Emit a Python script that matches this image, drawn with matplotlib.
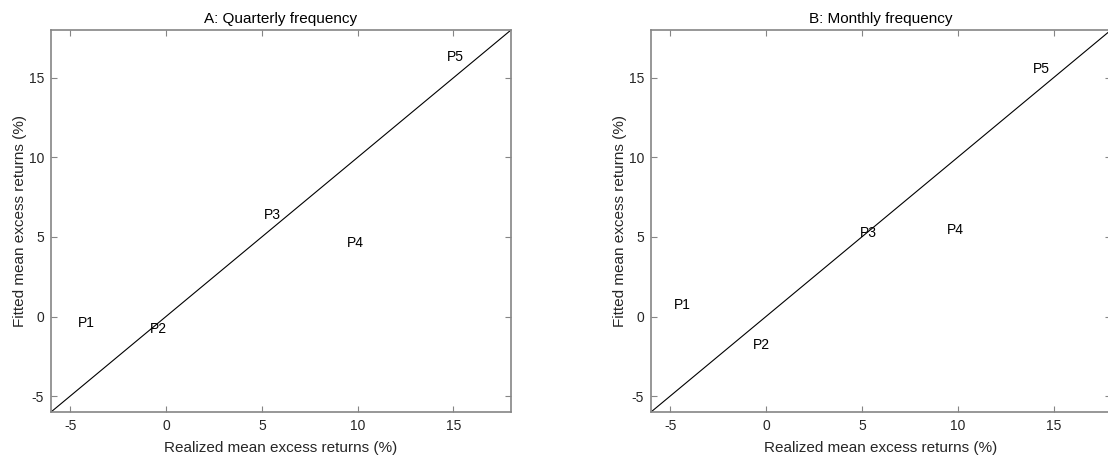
import matplotlib
matplotlib.use('Agg')
import matplotlib.pyplot as plt

plt.rcParams['font.family'] = ['Liberation Sans', 'DejaVu Sans']
plt.rcParams['axes.unicode_minus'] = False

# Data: label positions (realized, fitted)
labels = ['P1', 'P2', 'P3', 'P4', 'P5']
quarterly_x = [-4.58, -0.82, 5.09, 9.43, 14.65]
quarterly_y = [-0.43, -0.81, 6.35, 4.59, 16.28]
monthly_x = [-4.79, -0.66, 4.88, 9.43, 13.92]
monthly_y = [0.70, -1.81, 5.22, 5.41, 15.58]

diag = [-6, 18]
ticks = [-5, 0, 5, 10, 15]
titles = ['A: Quarterly frequency', 'B: Monthly frequency']

W, H = 1108, 462
fig = plt.figure(figsize=(W / 100, H / 100), dpi=100)

# axes boxes in pixels: left, bottom(from top), width, height
boxes = [(51, 412, 460, 382), (651, 412, 460, 382)]
panels = [(quarterly_x, quarterly_y), (monthly_x, monthly_y)]

spine_col = '#858585'
text_col = '#262626'

for (l, b, w, h), (xs, ys), title in zip(boxes, panels, titles):
    ax = fig.add_axes([l / W, (H - b) / H, w / W, h / H])
    ax.plot(diag, diag, color='black', linewidth=0.8)
    for lab, x, y in zip(labels, xs, ys):
        ax.text(x, y, lab, ha='left', va='center', fontsize=10, color='black')
    ax.set_xlim(-6, 18)
    ax.set_ylim(-6, 18)
    ax.set_xticks(ticks)
    ax.set_yticks(ticks)
    ax.tick_params(direction='in', length=4, width=0.8, colors=spine_col,
                   labelcolor=text_col, labelsize=10, top=True, right=True, pad=5)
    for s in ax.spines.values():
        s.set_color(spine_col)
        s.set_linewidth(1.2)
    ax.set_title(title, fontsize=11, color='black', pad=5)
    ax.set_xlabel('Realized mean excess returns (%)', fontsize=11, color=text_col, labelpad=6)
    ax.set_ylabel('Fitted mean excess returns (%)', fontsize=11, color=text_col, labelpad=1)

plt.savefig('out.png', dpi=100)
